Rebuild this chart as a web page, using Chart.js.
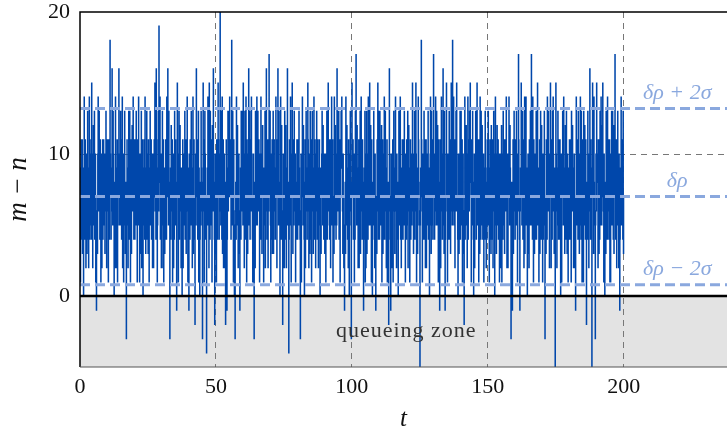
<!DOCTYPE html>
<html><head><meta charset="utf-8">
<script src="https://cdn.jsdelivr.net/npm/chart.js@4/dist/chart.umd.min.js"></script>
<style>html,body{margin:0;padding:0;background:#fff}canvas{display:block}</style>
</head><body>
<canvas id="c" width="727" height="428"></canvas>
<script>
// time step between samples of m - n
const dt = 0.125;
// m - n values, one per sample (rows of 40 samples = 5 time units)
const mnValues = [
  7,1,9,11,4,6,11,3,6,9,0,7,14,4,8,11,5,2,10,8,3,6,13,4,7,2,9,14,4,10,8,5,11,4,15,10,6,2,9,12,
  5,8,13,4,8,10,1,6,-1,4,7,3,10,14,6,9,13,7,4,11,9,1,7,10,2,5,11,4,8,11,5,7,10,3,6,9,13,7,2,11,
  8,11,6,1,11,8,4,9,18,10,7,4,9,6,16,9,5,13,10,6,0,5,8,2,14,9,6,2,9,11,1,10,7,8,16,5,10,8,5,13,
  9,11,4,7,14,2,7,10,1,5,10,13,6,3,8,6,-3,7,11,8,5,2,9,13,7,4,13,9,1,11,8,3,6,12,10,6,14,9,4,11,
  7,4,11,9,5,13,9,6,1,11,8,5,14,10,6,1,10,7,3,9,13,2,7,11,5,0,9,5,11,8,4,14,8,3,6,9,13,4,7,10,
  3,11,9,1,6,9,13,5,8,11,4,7,10,2,7,10,2,6,11,7,15,10,6,4,16,11,9,1,5,8,13,6,19,10,8,14,4,7,10,2,
  6,2,13,5,8,11,1,6,9,3,7,4,11,8,4,14,10,7,16,9,5,13,8,6,-3,5,9,4,12,9,6,11,1,8,10,2,7,4,13,8,
  5,11,8,5,-1,8,15,10,7,1,10,13,4,7,12,9,6,2,9,6,0,4,11,2,7,10,5,9,13,4,8,11,3,6,10,14,6,1,9,6,
  -1,10,7,4,11,8,5,13,9,7,2,9,14,3,8,11,6,4,-2,7,10,5,16,10,7,11,4,8,13,1,9,6,0,4,8,5,13,9,6,8,
  -3,6,15,11,8,1,5,13,10,4,7,5,-4,7,9,5,14,9,6,2,15,10,4,13,8,5,11,7,1,12,9,6,16,10,7,4,-2,8,10,3,
  6,1,11,9,4,7,15,11,8,4,10,6,20,9,5,13,9,4,14,3,7,11,2,8,10,2,8,6,-2,5,11,7,-1,4,9,13,6,9,13,7,
  14,10,7,11,4,8,18,5,9,13,6,1,11,6,0,4,-3,5,8,4,14,9,5,12,10,2,7,10,3,6,-1,5,9,4,13,9,6,13,8,5,
  15,9,5,2,10,13,7,4,14,8,1,11,9,3,6,10,16,5,8,13,4,7,11,6,14,10,7,4,1,6,10,7,-3,4,8,2,13,9,5,11,
  14,5,9,13,6,8,11,6,1,10,8,4,14,9,5,3,10,12,7,9,1,5,9,6,13,2,6,10,16,8,4,11,8,2,11,6,17,10,7,13,
  5,1,10,4,8,11,3,9,13,3,6,11,9,7,4,8,14,10,7,2,11,7,16,10,5,13,8,5,0,7,14,4,9,12,6,4,-2,6,10,2,
  7,2,13,8,4,12,9,2,6,9,16,5,8,6,-4,4,11,8,5,14,10,1,7,10,15,7,3,11,9,5,13,9,6,10,1,5,8,4,11,7,
  4,11,9,5,13,9,6,4,-3,6,10,1,7,9,14,8,5,12,8,4,0,7,11,2,7,13,9,6,4,8,15,11,6,2,10,7,3,13,8,4,
  11,1,6,13,9,7,3,8,14,4,7,11,5,2,10,6,13,9,4,11,8,2,6,9,11,5,0,6,9,3,7,10,13,8,5,12,10,4,8,10,
  3,6,10,1,7,9,13,4,5,10,15,6,8,11,4,8,11,2,6,9,14,5,9,11,1,4,7,3,14,10,5,12,10,4,8,5,16,9,6,13,
  9,13,4,8,11,1,7,10,13,9,14,10,6,3,10,7,2,5,-1,4,8,3,14,9,5,12,9,4,7,2,11,6,0,5,10,13,6,8,-3,7,
  15,10,7,11,4,7,10,1,8,4,13,7,17,10,5,12,9,6,2,8,11,2,7,9,13,3,6,14,10,8,4,11,8,5,-1,6,9,4,13,1,
  6,2,10,13,3,10,8,4,14,9,5,8,15,5,9,12,7,1,11,6,0,4,8,5,13,10,6,2,10,5,-1,4,7,3,11,6,15,10,4,13,
  9,4,13,8,5,11,8,12,1,6,11,3,7,4,10,14,4,7,13,9,6,2,9,11,1,5,8,4,-2,6,16,10,7,4,-1,6,10,2,5,8,
  11,1,7,13,9,6,3,9,14,10,6,2,10,4,8,5,0,7,13,9,5,10,14,4,9,2,7,4,11,8,4,11,8,5,13,10,6,1,10,7,
  4,11,8,5,13,2,6,12,9,7,1,9,11,4,7,10,5,8,15,6,10,3,6,9,13,4,8,6,15,10,1,7,9,3,7,14,11,8,5,6,
  -5,5,9,7,18,11,6,1,10,8,4,10,13,4,8,11,2,7,11,2,7,10,5,8,13,4,9,6,0,5,10,14,6,3,13,5,8,11,4,9,
  17,10,7,4,10,6,14,9,5,13,9,5,12,7,1,11,8,4,-1,6,11,2,6,14,10,8,4,9,16,5,8,3,13,6,-1,4,7,10,15,9,
  6,1,10,8,4,9,13,4,8,11,3,6,15,10,7,5,18,6,9,14,5,8,11,2,7,10,13,6,15,10,6,4,0,7,10,3,8,5,13,4,
  9,13,5,8,11,1,7,10,3,5,-2,6,14,4,8,5,12,9,6,2,10,14,4,11,9,6,13,8,15,11,7,1,11,8,5,13,8,4,0,6,
  10,2,7,9,13,7,4,10,15,5,8,11,6,1,11,8,3,14,9,4,13,9,5,12,10,4,7,10,1,5,9,4,13,9,6,2,8,4,11,9,
  5,13,9,7,1,9,11,4,7,3,12,9,4,11,8,2,6,13,10,6,0,5,14,10,7,3,9,12,5,7,11,4,8,10,1,7,10,2,6,9,
  12,1,7,10,4,13,9,5,11,3,6,11,8,6,14,9,2,6,10,2,7,9,14,8,5,12,9,6,-3,4,8,5,-1,7,11,3,6,13,10,7,
  4,11,8,5,13,9,6,1,10,6,17,11,7,4,-1,6,9,7,15,10,5,8,13,4,8,11,2,9,14,3,6,10,14,5,9,7,0,4,10,3,
  7,2,11,8,5,13,9,5,17,10,6,4,14,9,1,11,8,3,10,7,4,9,13,4,7,10,15,5,9,6,1,8,11,3,6,13,8,4,12,9,
  5,1,10,4,8,5,13,7,-3,4,7,3,11,8,4,14,9,6,13,9,6,2,10,7,15,9,2,11,8,4,13,6,14,10,7,3,9,5,-5,8,
  15,10,6,2,9,5,13,8,4,11,8,4,11,7,0,5,10,1,7,9,13,10,5,14,9,7,3,9,12,4,8,13,6,3,10,6,1,5,9,4,
  11,8,4,11,8,1,13,9,6,12,9,6,2,8,10,2,7,5,-1,6,14,9,5,11,9,4,13,10,6,3,10,5,14,9,4,13,8,1,11,4,
  7,1,13,9,5,12,9,4,11,6,-2,5,8,4,13,9,6,2,10,6,16,10,4,11,9,6,-5,7,15,10,7,3,14,8,5,6,-3,5,10,6,
  15,11,8,10,2,6,11,3,7,4,13,9,5,14,9,5,12,7,15,10,6,1,10,5,0,4,8,3,13,9,7,4,14,6,9,11,4,8,11,1,
  6,1,10,5,13,9,5,13,9,4,12,3,7,10,17,8,4,7,11,2,8,5,13,10,6,2,10,6,-1,4,9,5,14,9,5,11,8,4,13,3,
  7
];
const xRange = [0, 238];
const yRange = [-5, 20];
const xTicks = [0, 50, 100, 150, 200];
const yTicks = [0, 10, 20];
const refLevels = [13.2, 7, 0.8];           // δρ+2σ, δρ, δρ−2σ
const refLabels = ['δρ + 2σ', 'δρ', 'δρ − 2σ'];
const refLabelT = 219.7;
const zoneLabel = 'queueing zone';
const zoneLabelPos = [120, -2.5];

const serif = "'Liberation Serif', 'DejaVu Serif', serif";
const refColor = '#8aa8de';

const series = mnValues.map((v, i) => ({x: i * dt, y: v}));
const refSets = refLevels.map(lv => ({
  data: xRange.map(x => ({x: x, y: lv})),
  borderColor: refColor, borderWidth: 3, borderDash: [10, 5],
  pointRadius: 0, order: 1, fill: false
}));

const decor = {
  id: 'decor',
  beforeDraw(chart) {
    const {ctx, chartArea: a, scales: {y}} = chart;
    const y0 = y.getPixelForValue(0), yb = y.getPixelForValue(yRange[0]);
    ctx.save();
    ctx.fillStyle = '#e3e3e3';
    ctx.fillRect(a.left, y0, a.right - a.left, yb - y0);
    ctx.restore();
  },
  afterDatasetsDraw(chart) {
    const {ctx, chartArea: a, scales: {x, y}} = chart;
    ctx.save();
    const y0 = y.getPixelForValue(0);
    ctx.strokeStyle = '#000'; ctx.lineWidth = 2.5;
    ctx.beginPath(); ctx.moveTo(a.left, y0); ctx.lineTo(a.right, y0); ctx.stroke();
    ctx.lineWidth = 1.5; ctx.strokeStyle = '#000';
    ctx.beginPath(); ctx.moveTo(a.right, a.top); ctx.lineTo(a.left, a.top); ctx.lineTo(a.left, a.bottom); ctx.stroke();
    ctx.lineWidth = 1.2; ctx.strokeStyle = '#555';
    ctx.beginPath(); ctx.moveTo(a.left, a.bottom); ctx.lineTo(a.right, a.bottom); ctx.stroke();
    ctx.fillStyle = refColor;
    ctx.font = 'italic 22px ' + serif;
    ctx.textAlign = 'center'; ctx.textBaseline = 'middle';
    refLevels.forEach((lv, i) => {
      ctx.fillText(refLabels[i], x.getPixelForValue(refLabelT), y.getPixelForValue(lv) - 15);
    });
    ctx.fillStyle = '#333';
    ctx.font = '22px ' + serif;
    ctx.letterSpacing = '1px';
    ctx.fillText(zoneLabel, x.getPixelForValue(zoneLabelPos[0]), y.getPixelForValue(zoneLabelPos[1]));
    ctx.restore();
  }
};

new Chart(document.getElementById('c'), {
  type: 'line',
  data: {
    datasets: [
      {data: series, borderColor: '#0047ab', borderWidth: 1.2, stepped: true,
       pointRadius: 0, order: 2, fill: false},
      ...refSets
    ]
  },
  options: {
    responsive: false, animation: false, devicePixelRatio: 1,
    layout: {padding: {top: 12, right: 0, left: 0, bottom: 0}},
    plugins: {legend: {display: false}, tooltip: {enabled: false}},
    scales: {
      x: {
        type: 'linear', min: xRange[0], max: xRange[1],
        afterBuildTicks: s => { s.ticks = xTicks.map(v => ({value: v})); },
        afterFit: s => { s.height = 61; s.paddingLeft = 0; s.paddingRight = 0; },
        ticks: {font: {family: serif, size: 22}, color: '#111', padding: 7, maxRotation: 0},
        grid: {drawTicks: false, lineWidth: 1,
               color: c => (c.tick && c.tick.value === 0) ? 'transparent' : '#777'},
        border: {display: false, dash: [6, 5]},
        title: {display: true, text: 't', color: '#111',
                font: {family: serif, size: 25, style: 'italic', lineHeight: 1},
                padding: {top: 0, bottom: -4}}
      },
      y: {
        type: 'linear', min: yRange[0], max: yRange[1],
        afterBuildTicks: s => { s.ticks = yTicks.map(v => ({value: v})); },
        afterFit: s => { s.width = 80; s.paddingTop = 0; s.paddingBottom = 0; },
        ticks: {font: {family: serif, size: 22}, color: '#111', padding: 10},
        grid: {drawTicks: false, lineWidth: 1,
               color: c => (c.tick && c.tick.value === 10) ? '#777' : 'transparent'},
        border: {display: false, dash: [6, 5]},
        title: {display: true, text: 'm − n', color: '#111',
                font: {family: serif, size: 27, style: 'italic', lineHeight: 1},
                padding: {top: 5, bottom: 0}}
      }
    }
  },
  plugins: [decor]
});
</script>
</body></html>
